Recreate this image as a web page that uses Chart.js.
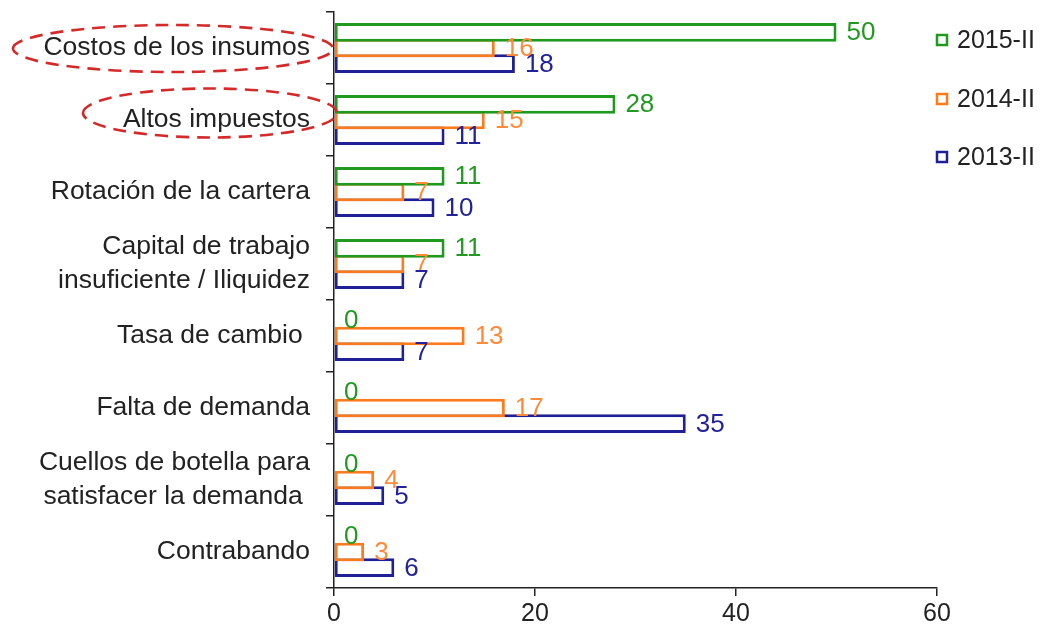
<!DOCTYPE html>
<html>
<head>
<meta charset="utf-8">
<script src="https://cdn.jsdelivr.net/npm/chart.js@4/dist/chart.umd.min.js"></script>
<style>
  html, body { margin: 0; padding: 0; background: #fff; }
  #wrap { width: 1045px; height: 630px; position: relative; }
</style>
</head>
<body>
<div id="wrap"><canvas id="c" width="1045" height="630"></canvas></div>
<script>
const categories = [
  "Costos de los insumos",
  "Altos impuestos",
  "Rotación de la cartera",
  ["Capital de trabajo", "insuficiente / Iliquidez"],
  "Tasa de cambio ",
  "Falta de demanda",
  ["Cuellos de botella para", "satisfacer la demanda "],
  "Contrabando"
];
const seriesNames = ["2015-II", "2014-II", "2013-II"];
const values2015 = [50, 28, 11, 11, 0, 0, 0, 0];
const values2014 = [16, 15, 7, 7, 13, 17, 4, 3];
const values2013 = [18, 11, 10, 7, 7, 35, 5, 6];
const xTicks = [0, 20, 40, 60];
const highlighted = [0, 1];

const lineColors = ["#1f9a1f", "#ff7a1a", "#1f1f96"];
const labelColors = ["#229a22", "#ff8a3a", "#22229a"];
const FONT = "'Liberation Sans', Arial, sans-serif";

const valueLabels = {
  id: 'valueLabels',
  afterDatasetsDraw(chart) {
    const ctx = chart.ctx;
    ctx.save();
    ctx.font = "26px " + FONT;
    ctx.textBaseline = 'middle';
    ctx.textAlign = 'left';
    chart.data.datasets.forEach((ds, i) => {
      const meta = chart.getDatasetMeta(i);
      meta.data.forEach((bar, j) => {
        ctx.fillStyle = labelColors[i];
        ctx.fillText(String(ds.data[j]), bar.x + 10, bar.y + 1);
      });
    });
    ctx.restore();
  }
};

const customLegend = {
  id: 'customLegend',
  afterDraw(chart) {
    const ctx = chart.ctx;
    ctx.save();
    ctx.font = "25px " + FONT;
    ctx.textBaseline = 'middle';
    ctx.textAlign = 'left';
    const ys = [40, 99, 157];
    chart.data.datasets.forEach((ds, i) => {
      const y = ys[i];
      ctx.strokeStyle = lineColors[i];
      ctx.lineWidth = 2.5;
      ctx.strokeRect(937, y - 5, 10, 10);
      ctx.fillStyle = '#222';
      ctx.fillText(ds.label, 957, y + 1);
    });
    ctx.restore();
  }
};

const ellipses = {
  id: 'ellipses',
  afterDraw(chart) {
    const ctx = chart.ctx;
    const ys = chart.scales.y;
    const shapes = [
      { idx: highlighted[0], cx: 173, dy: 0.5, rx: 160, ry: 23.5 },
      { idx: highlighted[1], cx: 210, dy: -7, rx: 127, ry: 24.5 }
    ];
    ctx.save();
    ctx.strokeStyle = '#d42a2a';
    ctx.lineWidth = 2.6;
    ctx.setLineDash([13, 8]);
    shapes.forEach(s => {
      const cy = ys.getPixelForValue(s.idx) + s.dy;
      ctx.beginPath();
      ctx.ellipse(s.cx, cy, s.rx, s.ry, 0, Math.PI * 1.0, Math.PI * 3.0);
      ctx.stroke();
    });
    ctx.restore();
  }
};

new Chart(document.getElementById('c'), {
  type: 'bar',
  data: {
    labels: categories,
    datasets: [
      { label: seriesNames[0], data: values2015 },
      { label: seriesNames[1], data: values2014 },
      { label: seriesNames[2], data: values2013 }
    ].map((d, i) => Object.assign(d, {
      backgroundColor: '#ffffff',
      borderColor: lineColors[i],
      borderWidth: 3,
      borderSkipped: false,
      categoryPercentage: 0.653,
      barPercentage: 1.19,
      inflateAmount: 0
    }))
  },
  options: {
    indexAxis: 'y',
    responsive: false,
    animation: false,
    devicePixelRatio: 1,
    layout: { padding: { top: 12, right: 108, bottom: 0, left: 0 } },
    plugins: { legend: { display: false }, tooltip: { enabled: false } },
    scales: {
      x: {
        min: 0, max: 60,
        afterBuildTicks(scale) { scale.ticks = xTicks.map(v => ({ value: v })); },
        afterFit(scale) { scale.height = 42; scale.paddingLeft = 0; scale.paddingRight = 0; },
        ticks: { font: { family: FONT, size: 25 }, color: '#222', padding: 3, autoSkip: false, maxRotation: 0 },
        grid: { drawOnChartArea: false, drawTicks: true, tickLength: 8, color: '#222', lineWidth: 1.5 },
        border: { display: true, color: '#222', width: 1.5 }
      },
      y: {
        afterFit(scale) { scale.width = 334; scale.paddingTop = 0; scale.paddingBottom = 0; },
        ticks: { font: { family: FONT, size: 26.5, lineHeight: 1.28 }, color: '#222', padding: 16, autoSkip: false },
        grid: { offset: true, drawOnChartArea: false, drawTicks: true, tickLength: 8, color: '#222', lineWidth: 1.5 },
        border: { display: true, color: '#222', width: 1.5 }
      }
    }
  },
  plugins: [valueLabels, customLegend, ellipses]
});
</script>
</body>
</html>
